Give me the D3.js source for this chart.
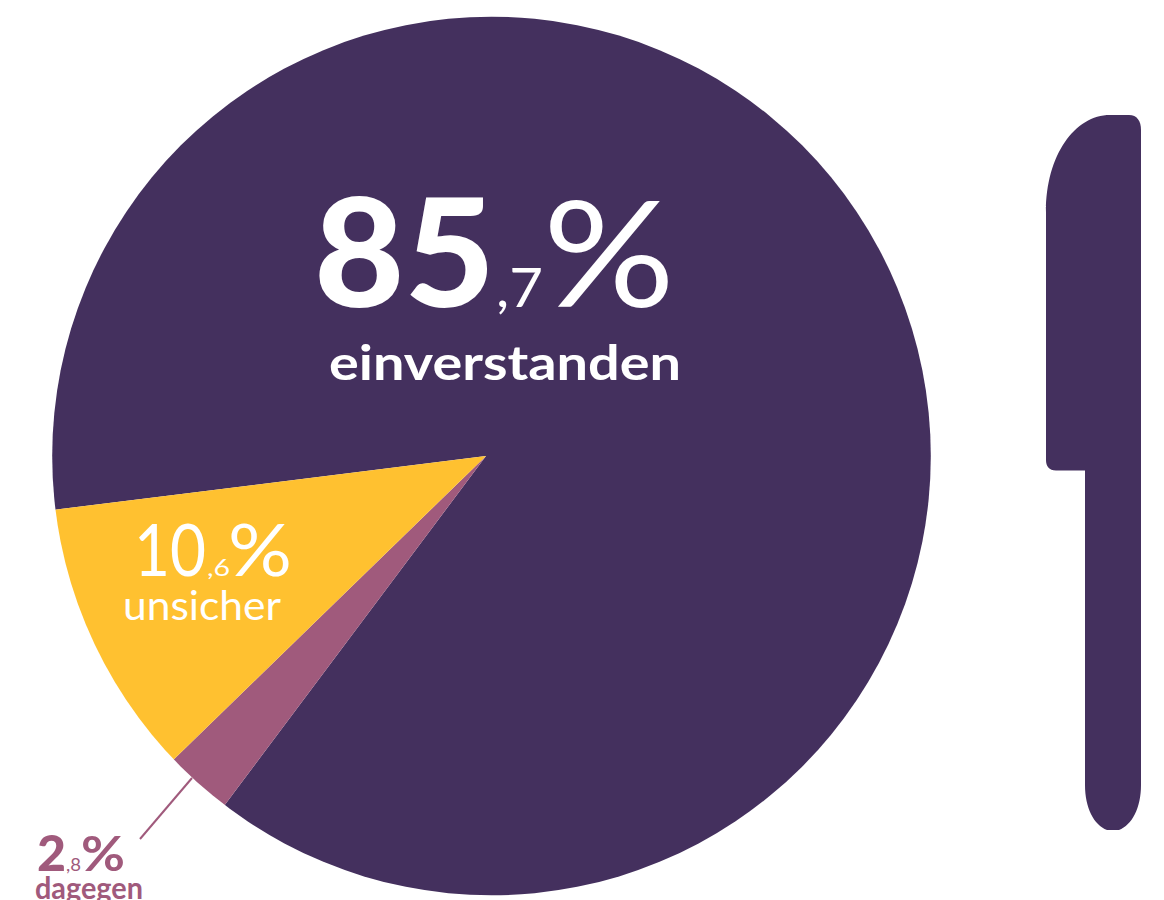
<!DOCTYPE html>
<html><head><meta charset="utf-8">
<script src="https://cdn.jsdelivr.net/npm/d3@7"></script>
<style>html,body{margin:0;padding:0;background:#fff;overflow:hidden}svg{display:block}text{font-family:Lato,"Noto Sans",sans-serif}</style>
</head><body>
<svg id="c" width="1164" height="900"></svg>
<script>
const categories = ["einverstanden", "dagegen", "unsicher"];
const drawnShares = [87.2, 2.5, 10.3];   // slice sizes as measured on the picture
const wholeParts = ["85", "2", "10"];
const decimalParts = [",7", ",8", ",6"];
const colours = ["#44305e", "#a05a7c", "#ffc130"];

const svg = d3.select("#c");
const apex = [486, 456];
const plate = {cx: 491.5, cy: 456, r: 439.3};
const start = 262.9 * Math.PI / 180;

svg.append("clipPath").attr("id", "plate").append("circle")
  .attr("cx", plate.cx).attr("cy", plate.cy).attr("r", plate.r);

const pie = d3.pie().sort(null).startAngle(start).endAngle(start + 2 * Math.PI);
const arc = d3.arc().innerRadius(0).outerRadius(470);
svg.append("g").attr("clip-path", "url(#plate)")
  .append("g").attr("transform", `translate(${apex})`)
  .selectAll("path").data(pie(drawnShares)).join("path")
  .attr("d", arc).attr("fill", (d, i) => colours[i]);

// leader line
svg.append("line").attr("x1", 192).attr("y1", 778).attr("x2", 140).attr("y2", 839)
  .attr("stroke", colours[1]).attr("stroke-width", 2);

// label layout
const layout = [
  {fill:"#fff", whole:{x:314,y:307,s:150,w:181,wt:900}, dec:{x:496,y:307,s:54,w:47,wt:400},
   pct:{x:543,y:307,s:148,w:132,wt:400}, name:{x:329,y:380,s:48,w:352,wt:700}},
  {fill:colours[1], whole:{x:37,y:871,s:49,w:29,wt:900}, dec:{x:66,y:871,s:17,w:15,wt:400},
   pct:{x:81,y:871,s:48,w:44,wt:700}, name:{x:35,y:899,s:31,w:108,wt:700}},
  {fill:"#fff", whole:{x:134,y:576,s:72,w:72,wt:400}, dec:{x:207,y:576,s:24,w:23,wt:400},
   pct:{x:228,y:576,s:72,w:64,wt:400}, name:{x:123,y:620,s:40,w:158,wt:400}}
];
const put = (t, o, fill) => svg.append("text").text(t)
  .attr("x", o.x).attr("y", o.y).attr("font-size", o.s).attr("font-weight", o.wt)
  .attr("textLength", o.w).attr("lengthAdjust", "spacingAndGlyphs").attr("fill", fill);
layout.forEach((l, i) => {
  put(wholeParts[i], l.whole, l.fill);
  put(decimalParts[i], l.dec, l.fill);
  put("%", l.pct, l.fill);
  put(categories[i], l.name, l.fill);
});

// knife
const k = d3.path();
k.moveTo(1110, 115);
k.lineTo(1129, 115);
k.bezierCurveTo(1137, 115, 1141, 121, 1141, 130);
k.lineTo(1141, 785);
k.bezierCurveTo(1141, 808, 1132, 825, 1119, 830);
k.lineTo(1107, 830);
k.bezierCurveTo(1094, 825, 1085, 808, 1085, 785);
k.lineTo(1085, 470.5);
k.lineTo(1056, 470.5);
k.bezierCurveTo(1049, 470.5, 1046, 466, 1046, 460);
k.lineTo(1046, 212);
k.bezierCurveTo(1046, 155, 1075, 115, 1110, 115);
k.closePath();
svg.append("path").attr("d", k.toString()).attr("fill", colours[0]);
</script>
</body></html>
